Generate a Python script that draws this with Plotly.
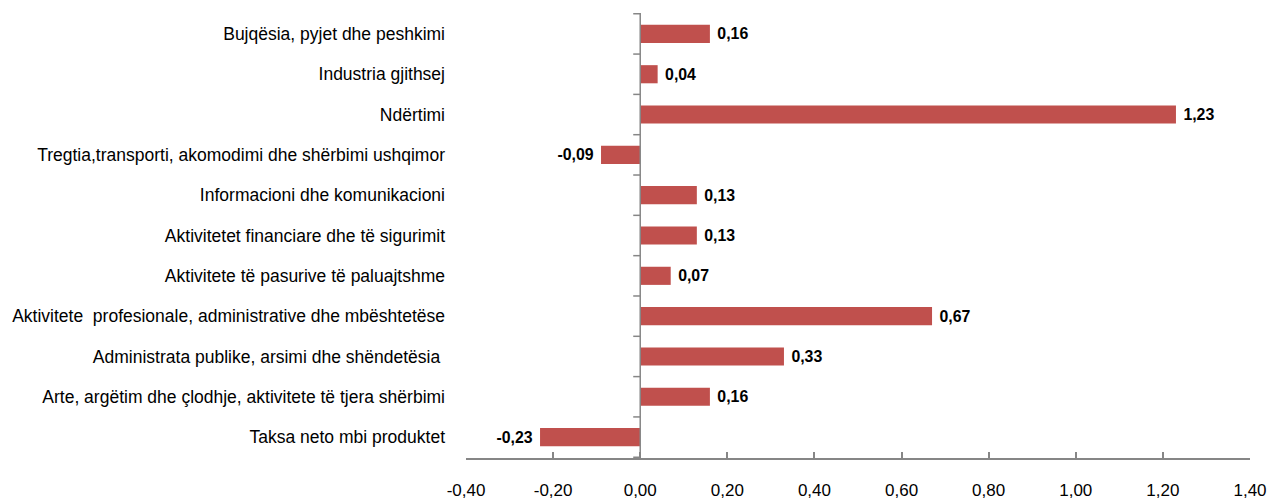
import plotly.graph_objects as go

categories = [
    "Bujqësia, pyjet dhe peshkimi",
    "Industria gjithsej",
    "Ndërtimi",
    "Tregtia,transporti, akomodimi dhe shërbimi ushqimor",
    "Informacioni dhe komunikacioni",
    "Aktivitetet financiare dhe të sigurimit",
    "Aktivitete të pasurive të paluajtshme",
    "Aktivitete\u00a0 profesionale, administrative dhe mbështetëse",
    "Administrata publike, arsimi dhe shëndetësia\u00a0",
    "Arte, argëtim dhe çlodhje, aktivitete të tjera shërbimi",
    "Taksa neto mbi produktet",
]
values = [0.16, 0.04, 1.23, -0.09, 0.13, 0.13, 0.07, 0.67, 0.33, 0.16, -0.23]
tick_vals = [-0.4, -0.2, 0.0, 0.2, 0.4, 0.6, 0.8, 1.0, 1.2, 1.4]
tick_text = ["-0,40", "-0,20", "0,00", "0,20", "0,40", "0,60", "0,80", "1,00", "1,20", "1,40"]

FONT = "Liberation Sans, Arial, sans-serif"
AXIS_COLOR = "#868686"

labels = []
for v in values:
    s = f"{v:.2f}".replace(".", ",")
    labels.append("\u00a0" + s if v >= 0 else s + "\u00a0")

fig = go.Figure(
    go.Bar(
        y=categories,
        x=values,
        orientation="h",
        marker=dict(color="#C0504D", line=dict(width=0)),
        text=labels,
        textposition="outside",
        cliponaxis=False,
        textfont=dict(family=FONT, size=17.5, color="black", weight="bold"),
        width=0.45,
    )
)

# tick marks along the category axis line at x = 0 (category boundaries)
for i in range(len(categories) + 1):
    fig.add_shape(
        type="line",
        xref="x", yref="y",
        xsizemode="pixel", xanchor=0,
        x0=-7, x1=0,
        y0=i - 0.5, y1=i - 0.5,
        line=dict(color=AXIS_COLOR, width=1.5),
    )
fig.add_shape(
    type="line", xref="x", yref="paper",
    x0=0, x1=0, y0=0, y1=1,
    line=dict(color=AXIS_COLOR, width=1.5),
)

fig.update_layout(
    width=1270, height=502,
    margin=dict(l=466, r=20, t=13, b=44, autoexpand=False),
    plot_bgcolor="white", paper_bgcolor="white",
    showlegend=False,
    separators=",.",
    font=dict(family=FONT, size=17.5, color="black"),
    xaxis=dict(
        range=[-0.4, 1.4],
        tickvals=tick_vals, ticktext=tick_text,
        showgrid=False, zeroline=False,
        showline=True, linecolor=AXIS_COLOR, linewidth=1.5,
        ticks="inside", ticklen=6, tickcolor=AXIS_COLOR, tickwidth=1.5,
        ticklabelstandoff=16,
        tickfont=dict(family=FONT, size=17, color="black"),
        automargin=False,
    ),
    yaxis=dict(
        autorange="reversed",
        showgrid=False, zeroline=False, showline=False,
        ticks="",
        ticklabelstandoff=20,
        tickfont=dict(family=FONT, size=17.5, color="black"),
        automargin=False,
    ),
)

fig.write_html(
    "out.html",
    config={"displayModeBar": False},
    post_script="document.body.style.margin='0';document.body.style.padding='0';",
)
